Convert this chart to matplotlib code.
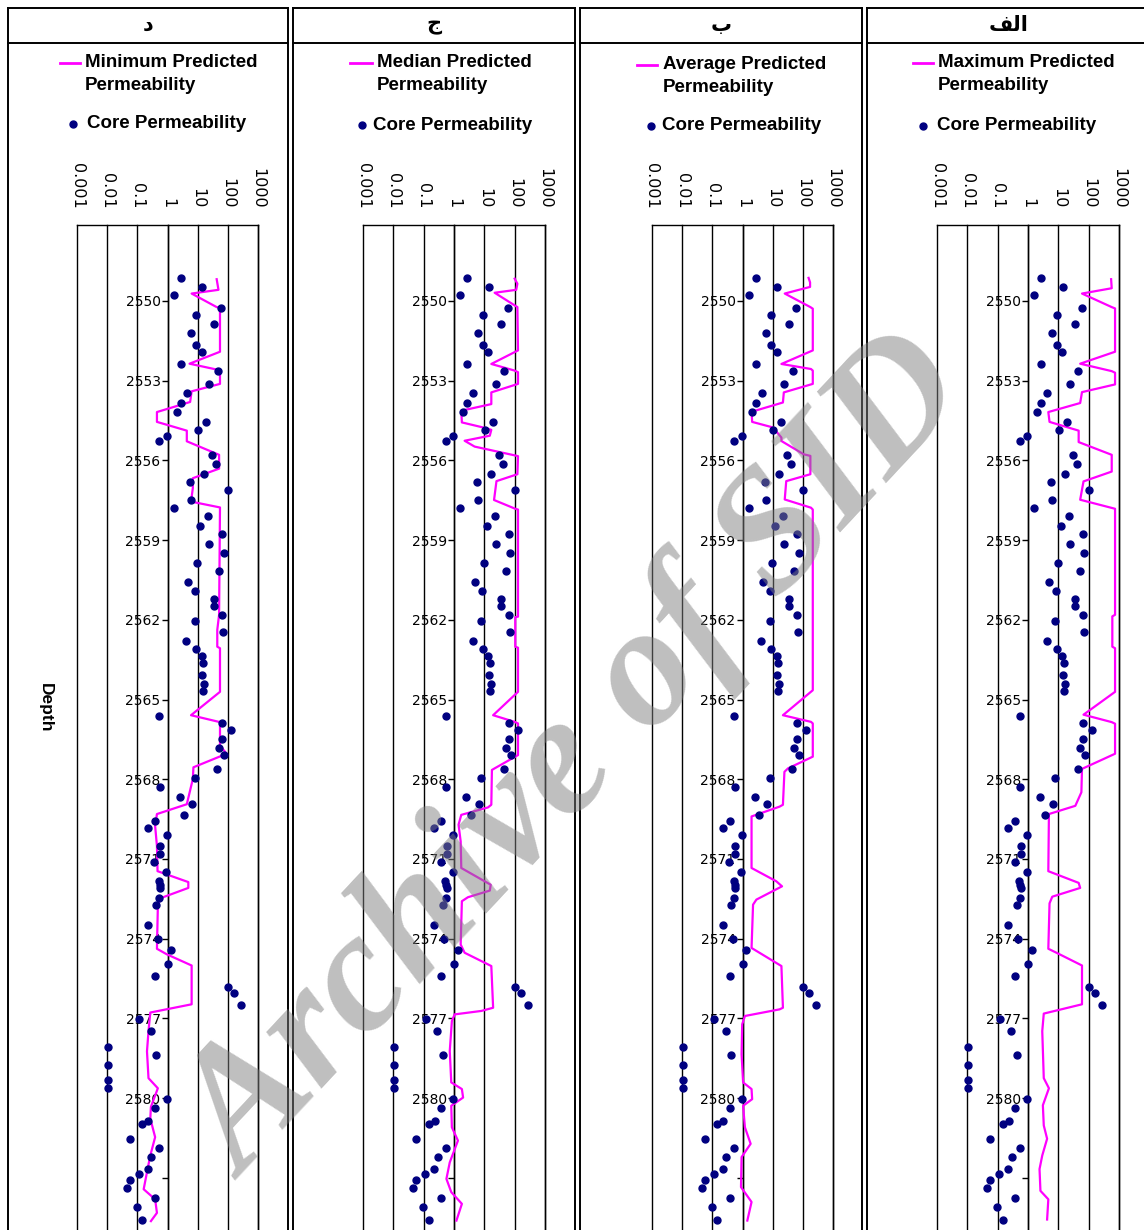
import numpy as np
import matplotlib.pyplot as plt

# panel headers (arabic presentation forms, already in visual order)
headers=['\ufea9','\ufe9d','\ufe8f','\ufed2\ufedf\ufe8d']
line_labels=['Minimum Predicted\nPermeability','Median Predicted\nPermeability',
             'Average Predicted\nPermeability','Maximum Predicted\nPermeability']

# core permeability, depth [m] and log10(k [md])
core_depth=[2549.14,2549.47,2549.79,2550.28,2550.53,2550.88,2551.19,2551.64,2551.91,2552.39,
            2552.64,2553.12,2553.46,2553.84,2554.19,2554.55,2554.87,2555.07,2555.28,2555.81,
            2556.14,2556.52,2556.82,2557.11,2557.48,2557.80,2558.09,2558.47,2558.77,2559.14,
            2559.50,2559.86,2560.17,2560.59,2560.90,2561.21,2561.47,2561.81,2562.06,2562.44,
            2562.79,2563.10,2563.35,2563.64,2564.08,2564.40,2564.69,2565.62,2565.88,2566.14,
            2566.48,2566.83,2567.08,2567.61,2567.95,2568.31,2568.66,2568.94,2569.35,2569.59,
            2569.83,2570.10,2570.51,2570.83,2571.12,2571.50,2571.84,2571.97,2572.09,2572.48,
            2572.73,2573.47,2574.03,2574.41,2574.97,2575.39,2575.81,2576.06,2576.48,2577.04,
            2577.46,2578.09,2578.39,2578.77,2579.32,2579.63,2580.05,2580.39,2580.85,2580.99,
            2581.53,2581.87,2582.20,2582.65,2582.86,2583.09,2583.37,2583.75,2584.10,2584.57]
core_logk=[0.44,1.16,0.20,1.77,0.95,1.54,0.78,0.95,1.13,0.44,
           1.66,1.38,0.64,0.44,0.31,1.27,1.02,-0.02,-0.27,1.49,
           1.60,1.21,0.75,2.02,0.78,0.20,1.35,1.08,1.82,1.38,
           1.86,0.99,1.71,0.69,0.91,1.54,1.54,1.81,0.90,1.85,
           0.62,0.95,1.13,1.19,1.16,1.22,1.19,-0.27,1.81,2.12,
           1.81,1.71,1.87,1.65,0.90,-0.26,0.40,0.81,0.56,-0.43,
           -0.66,-0.02,-0.24,-0.24,-0.44,-0.04,-0.29,-0.26,-0.24,-0.27,
           -0.37,-0.66,-0.32,0.12,0.00,-0.43,2.02,2.20,2.45,-0.93,
           -0.55,-1.97,-0.37,-1.97,-1.97,-1.97,-0.02,-0.43,-0.63,-0.83,
           -1.25,-0.27,-0.54,-0.66,-0.96,-1.25,-1.34,-0.43,-1.01,-0.84]

# predicted permeability curves, depth [m] and log10(k [md])
min_depth=[2549.18,2549.58,2549.72,2550.23,2550.25,2551.91,2552.36,2552.58,2552.67,2553.12,
           2553.40,2553.80,2554.18,2554.55,2554.88,2555.28,2555.79,2556.31,2556.67,2557.04,
           2557.55,2557.77,2561.81,2562.38,2563.01,2563.07,2564.71,2565.59,2565.85,2566.73,
           2567.04,2567.55,2567.99,2568.94,2569.31,2569.76,2570.51,2571.46,2571.87,2572.09,
           2572.48,2572.80,2574.38,2574.59,2575.01,2576.47,2576.78,2577.48,2578.24,2579.25,
           2579.63,2580.33,2580.77,2581.47,2582.16,2582.67,2583.43,2583.81,2584.32,2584.63]
min_logk=[1.63,1.69,0.80,1.63,1.74,1.74,0.73,1.63,1.74,1.74,
          0.80,0.75,-0.35,-0.35,0.64,0.64,1.71,1.71,0.84,0.84,
          0.78,1.74,1.71,1.65,1.65,1.74,1.74,0.78,1.74,1.74,
          1.96,0.86,0.84,0.64,-0.35,-0.41,-0.35,-0.33,0.69,0.69,
          -0.24,-0.32,-0.35,-0.02,0.80,0.80,-0.57,-0.63,-0.68,-0.63,
          -0.32,-0.55,-0.57,-0.41,-0.57,-0.66,-0.79,-0.41,-0.35,-0.55]

med_depth=[2549.16,2549.35,2549.58,2549.69,2550.23,2551.86,2552.37,2552.62,2552.68,2553.12,
           2553.44,2553.88,2554.13,2554.57,2554.76,2554.85,2555.07,2555.26,2555.48,2555.81,
           2555.84,2556.52,2556.78,2557.49,2557.82,2557.85,2561.88,2561.90,2563.01,2563.05,
           2564.71,2565.59,2565.84,2565.90,2567.09,2567.15,2567.59,2567.65,2568.96,2569.06,
           2569.34,2569.71,2570.34,2571.34,2571.84,2571.97,2572.19,2572.44,2572.59,2574.22,
           2574.53,2575.03,2576.60,2576.72,2576.85,2577.10,2578.23,2579.41,2579.66,2579.98,
           2580.29,2581.10,2581.60,2582.42,2583.04,2583.54,2583.98,2584.61]
med_logk=[2.00,2.09,2.05,1.34,2.09,2.11,1.23,2.00,2.11,2.11,
          1.23,1.23,0.24,0.26,0.96,1.23,1.18,0.35,0.68,2.00,
          2.11,2.09,1.40,1.32,2.02,2.11,2.11,2.02,2.02,2.11,
          2.11,1.29,2.00,2.11,2.11,2.02,1.34,1.25,1.23,1.12,
          0.24,0.15,0.22,0.24,1.01,1.21,1.18,0.46,0.26,0.22,
          0.35,1.23,1.29,0.90,0.02,-0.07,-0.14,-0.09,0.26,0.30,
          -0.09,-0.07,0.13,-0.14,-0.25,-0.09,0.26,0.08]

avg_depth=[2549.13,2549.30,2549.47,2549.72,2550.23,2550.29,2551.86,2552.37,2552.56,2552.62,
           2553.12,2553.44,2553.82,2554.17,2554.55,2554.76,2555.14,2555.27,2555.77,2555.83,
           2556.52,2556.78,2557.47,2557.78,2557.85,2564.65,2565.59,2565.84,2565.90,2567.15,
           2567.59,2567.72,2568.96,2569.03,2569.40,2571.34,2571.84,2572.03,2572.53,2572.72,
           2574.35,2575.03,2576.60,2576.66,2576.91,2577.22,2578.35,2579.41,2579.66,2580.04,
           2580.29,2581.10,2581.72,2582.22,2583.35,2583.91,2584.61]
avg_logk=[2.19,2.24,2.24,1.40,2.25,2.33,2.33,1.29,2.27,2.33,
          2.33,1.37,1.34,0.30,0.32,1.01,1.29,1.29,2.03,2.25,
          2.25,1.45,1.40,2.27,2.33,2.33,1.34,2.27,2.33,2.33,
          1.51,1.39,1.34,1.23,0.30,0.30,1.12,1.31,0.46,0.35,
          0.30,1.29,1.34,1.23,0.08,-0.01,-0.03,0.02,0.30,0.32,
          0.02,0.08,0.27,-0.03,-0.05,0.30,0.16]

max_depth=[2549.18,2549.52,2549.72,2550.23,2550.28,2551.91,2552.36,2552.64,2552.70,2553.14,
           2553.43,2553.84,2554.18,2554.55,2554.88,2555.31,2555.79,2556.42,2556.79,2557.48,
           2557.82,2561.81,2561.87,2563.01,2563.07,2564.71,2565.57,2565.85,2565.91,2567.04,
           2567.61,2568.49,2569.00,2569.31,2571.46,2571.90,2572.09,2572.42,2572.67,2574.38,
           2574.57,2575.01,2576.47,2576.82,2577.48,2579.25,2579.63,2580.27,2581.03,2581.53,
           2582.16,2582.67,2583.49,2583.81,2584.57]
max_logk=[2.74,2.76,1.78,2.76,2.87,2.87,1.72,2.76,2.87,2.87,
          1.78,1.72,0.67,0.71,1.67,1.67,2.76,2.76,1.83,1.72,
          2.87,2.87,2.78,2.78,2.87,2.87,1.83,2.76,2.87,2.87,
          1.78,1.76,1.56,0.69,0.67,1.67,1.72,0.80,0.71,0.67,
          1.01,1.78,1.78,0.52,0.47,0.52,0.69,0.49,0.52,0.63,
          0.47,0.38,0.41,0.67,0.63]

curves=[(min_depth,min_logk),(med_depth,med_logk),(avg_depth,avg_logk),(max_depth,max_logk)]

xticks=[0.001,0.01,0.1,1,10,100,1000]
xticklabels=['0.001','0.01','0.1','1','10','100','1000']
yticks=[2550,2553,2556,2559,2562,2565,2568,2571,2574,2577,2580,2583]
yticklabels=['2550','2553','2556','2559','2562','2565','2568','2571','2574','2577','2580','']

W,H=1144.,1230.
fig=plt.figure(figsize=(W/100,H/100),dpi=100)

# page frame drawn in pixel coordinates
bg=fig.add_axes([0,0,1,1])
bg.set_xlim(0,W); bg.set_ylim(H,0); bg.axis('off')
boxes=[(8,288),(293,575),(580,862),(867,1150)]
for (l,r),head in zip(boxes,headers):
  bg.plot([l,l],[8,H+5],color='k',lw=1.4)
  bg.plot([r,r],[8,H+5],color='k',lw=1.4)
  bg.plot([l,r],[8,8],color='k',lw=1.4)
  bg.plot([l,r],[43,43],color='k',lw=1.4)
  bg.text((l+r)/2.,25,head,ha='center',va='center',fontsize=15,fontweight='bold',family=['DejaVu Sans'])

# legend entries
leg_pos=[(60,80,63,85,73,124,87),(350,372,63,377,362,125,373),
         (637,657,65,663,651,126,662),(913,933,63,938,923,126,937)]
for (x1,x2,yl,xt,xd,yd,xc),lab in zip(leg_pos,line_labels):
  bg.plot([x1,x2],[yl,yl],color='#ff00ff',lw=2)
  bg.text(xt,yl-9,lab,ha='left',va='top',fontsize=13.5,fontweight='bold',
          family='Liberation Sans',linespacing=1.45)
  bg.plot([xd],[yd],'o',color='#000080',ms=5)
  bg.text(xc,yd,'Core Permeability',ha='left',va='center',fontsize=13.5,fontweight='bold',
          family='Liberation Sans')

fig.text(45/W,1-708/H,'Depth',rotation=-90,ha='center',va='center',fontsize=12.5,
         fontweight='bold',family='Liberation Sans')

# plot areas
ax_x=[(77,258),(363,545),(652,833),(937,1119)]
top_px,bot_px=225.,1245.
d_top=2547.14
d_bot=d_top+(bot_px-top_px)/26.57
for (x0,x1),(dep,lk) in zip(ax_x,curves):
  ax=fig.add_axes([x0/W,1-bot_px/H,(x1-x0)/W,(bot_px-top_px)/H])
  ax.set_xscale('log')
  ax.set_xlim(0.001,1000)
  ax.set_ylim(d_bot,d_top)
  for xv in xticks:
    ax.axvline(xv,color='k',lw=1.0,clip_on=False,zorder=1)
  ax.plot(10**np.array(lk),dep,color='#ff00ff',lw=1.6,zorder=3)
  ax.plot(10**np.array(core_logk),core_depth,'o',color='#000080',ms=5,mec='#000080',zorder=4)
  ax.xaxis.tick_top()
  ax.set_xticks(xticks)
  ax.set_xticklabels(xticklabels,rotation=-90,fontsize=11.5,family='DejaVu Sans')
  ax.xaxis.set_minor_locator(plt.NullLocator())
  ax.tick_params(axis='x',which='both',length=0,pad=12)
  ax.set_yticks(yticks)
  ax.set_yticklabels(yticklabels,fontsize=12.5,family='DejaVu Sans',color='#222222')
  ax.tick_params(axis='y',direction='out',length=4,width=1,pad=1)
  ax.spines['left'].set_position(('data',1))
  ax.spines['bottom'].set_visible(False)
  for s in ['top','right','left']:
    ax.spines[s].set_linewidth(1.0)

fig.text(580/W,1-760/H,'Archive of SID',rotation=47,rotation_mode='anchor',ha='center',va='center',
         fontsize=124,fontweight='bold',style='italic',family='Liberation Serif',
         color='#808080',alpha=0.5,zorder=10)

plt.savefig('out.png',dpi=100)
